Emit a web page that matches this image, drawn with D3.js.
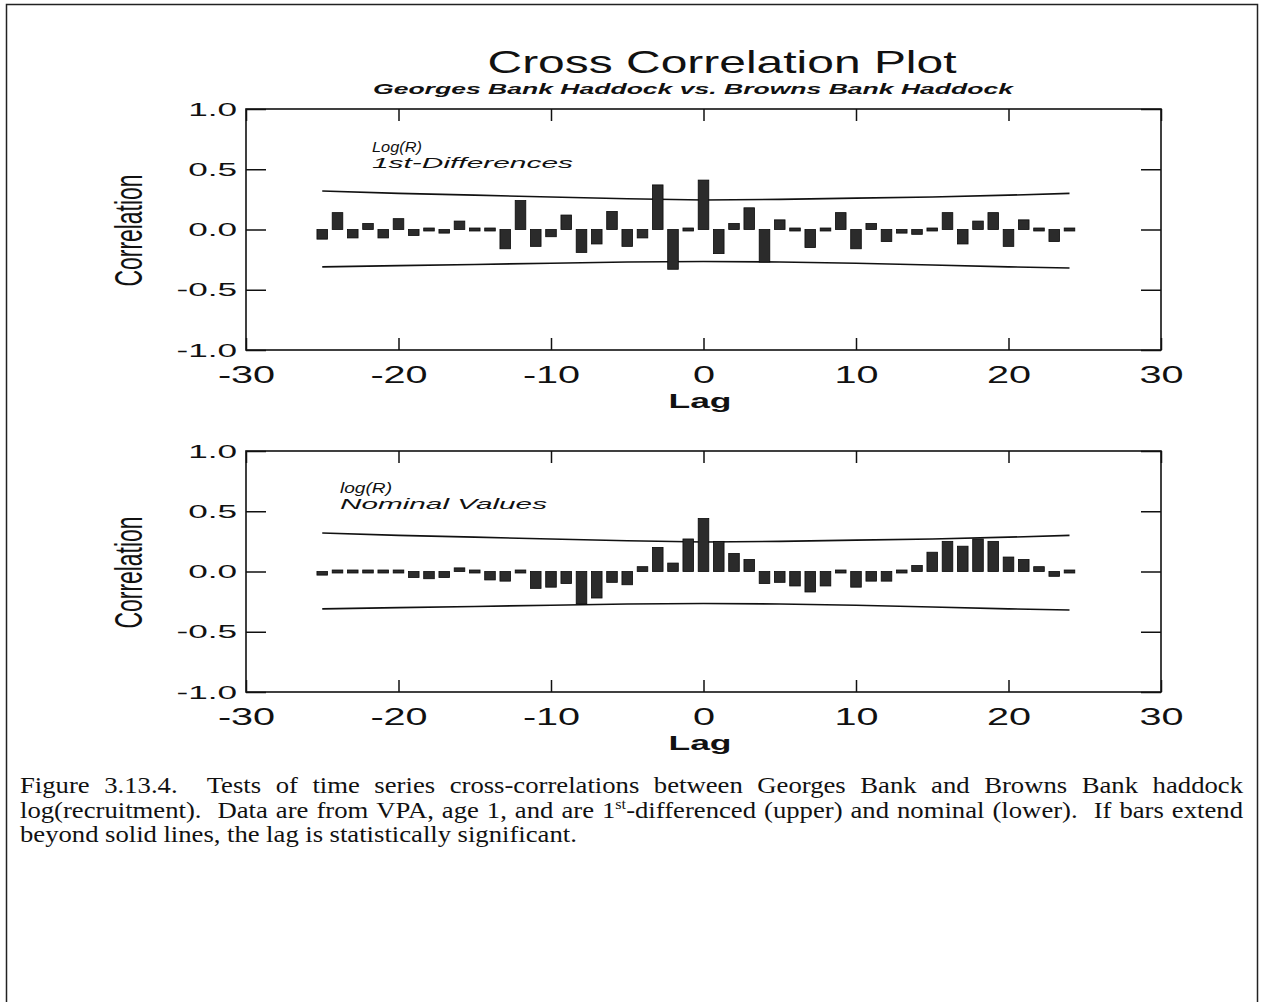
<!DOCTYPE html>
<html>
<head>
<meta charset="utf-8">
<script src="https://cdn.jsdelivr.net/npm/d3@7"></script>
<style>
  body { margin: 0; background: #fff; }
  text { font-family: "Liberation Sans", Arial, sans-serif; fill: #111; }
</style>
</head>
<body>
<svg id="fig" width="1264" height="1002"></svg>
<script>
// Cross-correlation lags
const lags = [-25,-24,-23,-22,-21,-20,-19,-18,-17,-16,-15,-14,-13,-12,-11,-10,-9,-8,-7,-6,-5,-4,-3,-2,-1,
              0,1,2,3,4,5,6,7,8,9,10,11,12,13,14,15,16,17,18,19,20,21,22,23,24];

// Log(R), 1st-differences
const diffCorr = [-0.08,0.14,-0.07,0.05,-0.07,0.09,-0.05,-0.01,-0.03,0.07,-0.01,-0.02,-0.16,0.24,-0.14,-0.06,0.12,-0.19,-0.12,0.15,-0.14,-0.07,0.37,-0.33,-0.01,
                  0.41,-0.20,0.05,0.18,-0.27,0.08,-0.02,-0.15,0.01,0.14,-0.16,0.05,-0.10,-0.03,-0.04,-0.01,0.14,-0.12,0.07,0.14,-0.14,0.08,0.02,-0.10,-0.01];

// log(R), nominal values
const nominalCorr = [-0.03,0.02,-0.01,-0.01,-0.01,0.02,-0.05,-0.06,-0.05,0.03,-0.02,-0.07,-0.08,-0.01,-0.14,-0.13,-0.10,-0.27,-0.22,-0.09,-0.11,0.04,0.20,0.07,0.27,
                     0.44,0.25,0.15,0.10,-0.10,-0.09,-0.12,-0.17,-0.12,-0.02,-0.13,-0.08,-0.08,-0.02,0.05,0.16,0.25,0.21,0.27,0.25,0.12,0.10,0.04,-0.04,-0.02];

// Significance limits (solid lines)
const bandLags  = [-25,-20,-15,-10,-5,0,5,10,15,20,24];
const bandUpper = [0.32,0.30,0.285,0.27,0.255,0.245,0.25,0.26,0.27,0.285,0.30];
const bandLower = [-0.31,-0.30,-0.29,-0.28,-0.27,-0.265,-0.27,-0.28,-0.295,-0.31,-0.32];

// Axis ticks
const xTicks = [-30,-20,-10,0,10,20,30];
const yTicks = [-1.0,-0.5,0.0,0.5,1.0];

const svg = d3.select("#fig");
const x = d3.scaleLinear().domain([-30, 30]).range([246, 1161]);
const fmtY = v => d3.format(".1f")(v).replace("\u2212", "-");
const fmtX = v => String(v);

function widen(sel, k) {
  sel.each(function () {
    const w = this.getComputedTextLength();
    d3.select(this).attr("textLength", w * k).attr("lengthAdjust", "spacingAndGlyphs");
  });
}

// outer page border
svg.append("rect").attr("x", 6.5).attr("y", 4.5).attr("width", 1251).attr("height", 1020)
  .attr("fill", "none").attr("stroke", "#222").attr("stroke-width", 1.5);

// title block
svg.append("text").attr("x", 722).attr("y", 73).attr("text-anchor", "middle")
  .style("font-size", "32px").text("Cross Correlation Plot")
  .attr("textLength", 469).attr("lengthAdjust", "spacingAndGlyphs");
svg.append("text").attr("x", 693).attr("y", 94).attr("text-anchor", "middle")
  .style("font-size", "14px").style("font-style", "italic").style("font-weight", "bold")
  .text("Georges Bank Haddock vs. Browns Bank Haddock")
  .attr("textLength", 640).attr("lengthAdjust", "spacingAndGlyphs");

const panels = [
  { top: 109, bottom: 350, values: diffCorr, notes: ["Log(R)", "1st-Differences"], noteX: 372, noteY: [152, 168], noteW: [50, 201] },
  { top: 451, bottom: 692, values: nominalCorr, notes: ["log(R)", "Nominal Values"], noteX: 340, noteY: [493, 509], noteW: [52, 207] }
];

panels.forEach(p => {
  const y = d3.scaleLinear().domain([-1, 1]).range([p.bottom, p.top]);
  const g = svg.append("g");

  // bottom axis with labels, inward ticks
  const gb = g.append("g").attr("transform", `translate(0,${p.bottom})`)
    .call(d3.axisBottom(x).tickValues(xTicks).tickFormat(fmtX).tickSizeInner(-12).tickSizeOuter(0).tickPadding(16));
  const gt = g.append("g").attr("transform", `translate(0,${p.top})`)
    .call(d3.axisTop(x).tickValues(xTicks).tickFormat("").tickSizeInner(-12).tickSizeOuter(0));
  const gl = g.append("g").attr("transform", `translate(${x(-30)},0)`)
    .call(d3.axisLeft(y).tickValues(yTicks).tickFormat(fmtY).tickSizeInner(-20).tickSizeOuter(0).tickPadding(9));
  const gr = g.append("g").attr("transform", `translate(${x(30)},0)`)
    .call(d3.axisRight(y).tickValues(yTicks).tickFormat("").tickSizeInner(-20).tickSizeOuter(0));

  [gb, gt, gl, gr].forEach(a => {
    a.select(".domain").remove();
    a.selectAll("line").attr("stroke", "#111").attr("stroke-width", 1.5);
  });
  gb.selectAll("text").style("font-size", "24px").style("font-family", "Liberation Sans, Arial, sans-serif").attr("fill", "#111");
  widen(gb.selectAll("text"), 1.65);
  gl.selectAll("text").style("font-size", "19px").style("font-family", "Liberation Sans, Arial, sans-serif").attr("fill", "#111");
  widen(gl.selectAll("text"), 1.85);

  // plot frame
  g.append("rect").attr("x", x(-30)).attr("y", p.top)
    .attr("width", x(30) - x(-30)).attr("height", p.bottom - p.top)
    .attr("fill", "none").attr("stroke", "#111").attr("stroke-width", 1.6);

  // significance limits
  const line = d3.line().x(d => x(d[0])).y(d => y(d[1]));
  [bandUpper, bandLower].forEach(b => {
    g.append("path").datum(bandLags.map((l, i) => [l, b[i]])).attr("d", line)
      .attr("fill", "none").attr("stroke", "#111").attr("stroke-width", 1.6);
  });

  // correlation bars
  const bw = 10.6;
  g.append("g").selectAll("rect").data(lags.map((l, i) => ({ lag: l, v: p.values[i] })))
    .join("rect")
    .attr("x", d => x(d.lag) - bw / 2)
    .attr("width", bw)
    .attr("y", d => {
      const h = Math.abs(y(d.v) - y(0));
      return h < 3 ? y(0) - 1.5 : Math.min(y(d.v), y(0));
    })
    .attr("height", d => Math.max(Math.abs(y(d.v) - y(0)), 3))
    .attr("fill", "#2b2b2b").attr("stroke", "#0a0a0a").attr("stroke-width", 0.8);

  // panel annotation
  p.notes.forEach((t, i) => {
    g.append("text").attr("x", p.noteX).attr("y", p.noteY[i])
      .style("font-size", "14px").style("font-style", "italic").text(t)
      .attr("textLength", p.noteW[i]).attr("lengthAdjust", "spacingAndGlyphs");
  });

  // axis titles
  g.append("text").attr("x", 700).attr("y", p.bottom + 58).attr("text-anchor", "middle")
    .style("font-size", "21px").style("font-weight", "bold").text("Lag")
    .attr("textLength", 63).attr("lengthAdjust", "spacingAndGlyphs");
  g.append("text")
    .attr("transform", `translate(142,${(p.top + p.bottom) / 2 + 1}) rotate(-90)`)
    .attr("text-anchor", "middle")
    .style("font-family", "'Liberation Sans Narrow', 'Liberation Sans', Arial, sans-serif")
    .style("font-size", "38px").text("Correlation")
    .attr("textLength", 112).attr("lengthAdjust", "spacingAndGlyphs");
});

// figure caption: lines 1-2 justified between the margins, line 3 ragged
const capLeft = 20, capRight = 1243, capStretch = 1.16, capFont = 23;
const capLines = [
  { y: 793, justify: true,
    words: ["Figure", "3.13.4.", "Tests", "of", "time", "series", "cross-correlations", "between", "Georges", "Bank", "and", "Browns", "Bank", "haddock"],
    wide: ["3.13.4."] },
  { y: 818, justify: true,
    words: ["log(recruitment).", "Data", "are", "from", "VPA,", "age", "1,", "and", "are", "1^st-differenced", "(upper)", "and", "nominal", "(lower).", "If", "bars", "extend"],
    wide: ["log(recruitment).", "(lower)."] },
  { y: 842, justify: false,
    words: ["beyond", "solid", "lines,", "the", "lag", "is", "statistically", "significant."],
    wide: [] }
];
const capFamily = "'Liberation Serif', 'Times New Roman', serif";
const capG = svg.append("g");
capLines.forEach(ln => {
  const nodes = ln.words.map(w => {
    const t = capG.append("text").attr("y", ln.y)
      .style("font-family", capFamily).style("font-size", capFont + "px");
    if (w.includes("^")) {
      const [a, rest] = w.split("^");
      t.append("tspan").text(a);
      t.append("tspan").attr("dy", -9).style("font-size", "14px").text(rest.slice(0, 2));
      t.append("tspan").attr("dy", 9).text(rest.slice(2));
    } else {
      t.text(w);
    }
    return t;
  });
  const widths = nodes.map(n => {
    const w = n.node().getComputedTextLength() * capStretch;
    n.attr("textLength", w).attr("lengthAdjust", "spacingAndGlyphs");
    return w;
  });
  // a sentence break counts as a double space
  const weights = ln.words.slice(0, -1).map(w => (ln.wide.includes(w) ? 2 : 1));
  const total = d3.sum(widths);
  const unit = ln.justify ? (capRight - capLeft - total) / d3.sum(weights) : 6.5;
  let cx = capLeft;
  nodes.forEach((n, i) => {
    n.attr("x", cx);
    cx += widths[i] + (i < weights.length ? weights[i] * unit : 0);
  });
});
</script>
</body>
</html>
